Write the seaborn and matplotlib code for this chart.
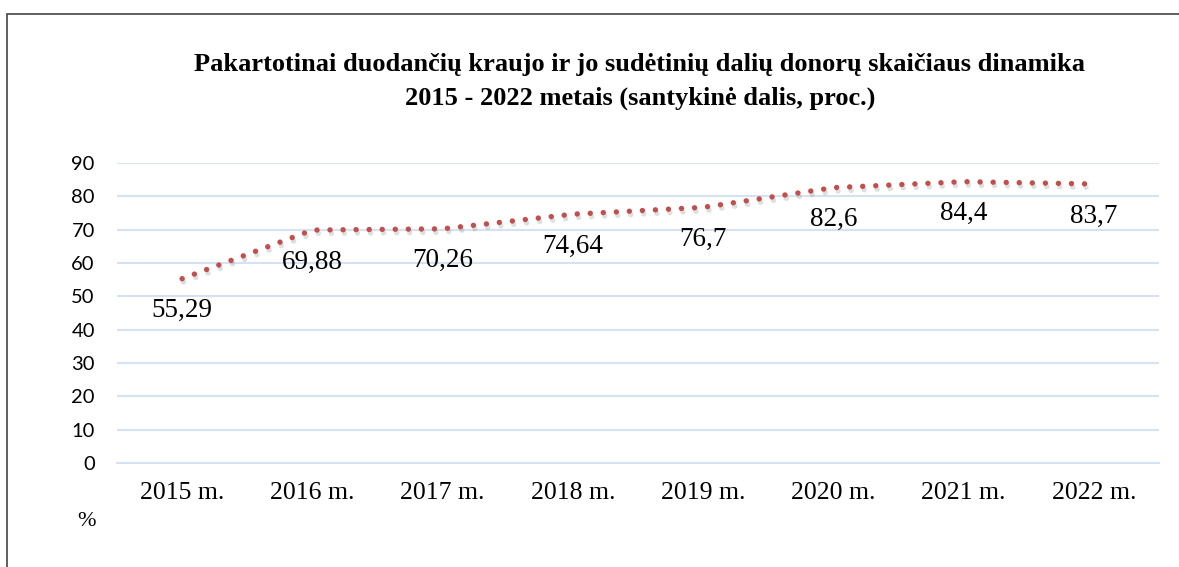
import numpy as np
import pandas as pd
import matplotlib
matplotlib.use("Agg")
import matplotlib.pyplot as plt
import matplotlib.patheffects as pe
from matplotlib.patches import Rectangle
import seaborn as sns

# Duomenys
metai = ["2015 m.", "2016 m.", "2017 m.", "2018 m.", "2019 m.", "2020 m.", "2021 m.", "2022 m."]
procentai = [55.29, 69.88, 70.26, 74.64, 76.7, 82.6, 84.4, 83.7]
zymes = ["55,29", "69,88", "70,26", "74,64", "76,7", "82,6", "84,4", "83,7"]

df = pd.DataFrame({"metai": metai, "proc": procentai})
df["x"] = np.arange(len(metai))

sns.set_style("white")
plt.rcParams["text.color"] = "black"
serif = ["Liberation Serif", "DejaVu Serif"]
grid_col = "#D6E2F3"
red = "#C0504D"

fig = plt.figure(figsize=(11.79, 5.67), dpi=100)
ax = fig.add_axes([117 / 1179, 1 - 463 / 567, (1159 - 117) / 1179, 300 / 567])

sns.lineplot(data=df, x="x", y="proc", ax=ax, color=red, linewidth=3.9,
             linestyle=(0, (0.01, 2.4)),
             path_effects=[pe.SimpleLineShadow(offset=(1, -2.5), shadow_color="grey", alpha=0.25),
                           pe.Normal()])
for ln in ax.lines:
    ln.set_dash_capstyle("round")
    ln.set_clip_on(False)

# žymės po taškais
for i, (v, t) in enumerate(zip(procentai, zymes)):
    ax.annotate(t, (i, v), xytext=(0, -23), textcoords="offset points",
                ha="center", va="center", fontsize=19.5, family=serif, color="black")

ax.set_xlim(-0.5, len(metai) - 0.5)
ax.set_ylim(0, 90)
ax.set_yticks(range(0, 91, 10))
ax.yaxis.grid(True, color=grid_col, linewidth=1.5)
ax.set_axisbelow(True)
for s in ["top", "right", "left"]:
    ax.spines[s].set_visible(False)
ax.spines["bottom"].set_color(grid_col)
ax.spines["bottom"].set_linewidth(1.5)

# kategorijų ribos
ax.set_xticks(np.arange(-0.5, len(metai), 1.0))
ax.set_xticklabels([])
ax.set_xticks(np.arange(len(metai)), minor=True)
ax.set_xticklabels(metai, minor=True, fontsize=18.5, family=serif, color="black")
ax.tick_params(axis="x", which="major", length=7, width=1.5, color=grid_col, direction="out")
ax.tick_params(axis="x", which="minor", length=0, pad=14)
ax.tick_params(axis="y", length=0, pad=16, labelsize=14.5, labelcolor="black")
for lab in ax.get_yticklabels():
    lab.set_family(["Lato", "DejaVu Sans"])
ax.set_xlabel("")
ax.set_ylabel("")

fig.text(640 / 1179, 1 - 64 / 567,
         "Pakartotinai duodančių kraujo ir jo sudėtinių dalių donorų skaičiaus dinamika",
         ha="center", va="center", fontsize=19, fontweight="bold", family=serif, color="black")
fig.text(640 / 1179, 1 - 98 / 567,
         "2015 - 2022 metais (santykinė dalis, proc.)",
         ha="center", va="center", fontsize=19, fontweight="bold", family=serif, color="black")
fig.text(87 / 1179, 1 - 522 / 567, "%", ha="center", va="center", fontsize=16, family=serif,
         color="black")

# rėmelis
fig.add_artist(Rectangle((7 / 1179, -0.1), 1.2, 1.1 - 14 / 567, transform=fig.transFigure,
                         fill=False, edgecolor="#444444", linewidth=1.2))

fig.savefig("out.png", dpi=100)
